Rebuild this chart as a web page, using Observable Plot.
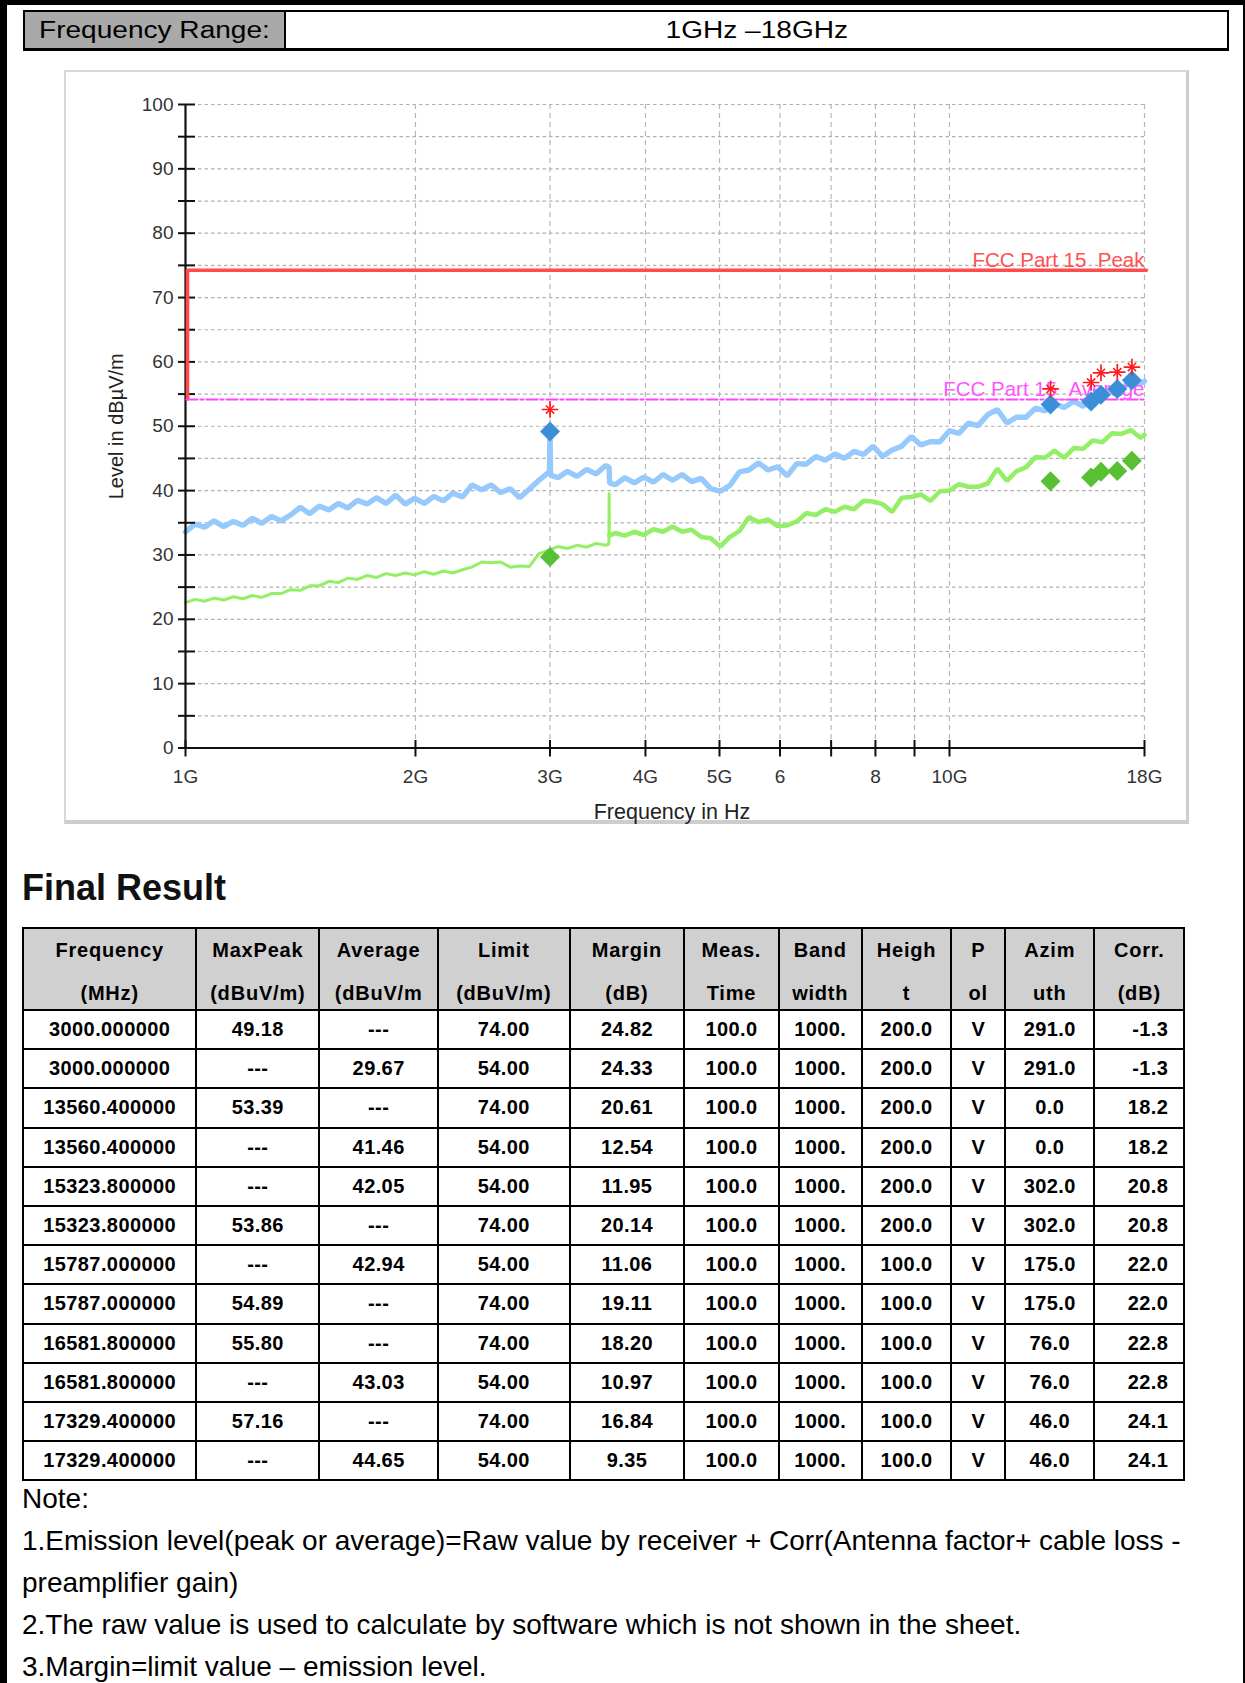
<!DOCTYPE html>
<html><head><meta charset="utf-8">
<script src="https://cdn.jsdelivr.net/npm/d3@7"></script>
<script src="https://cdn.jsdelivr.net/npm/@observablehq/plot@0.6"></script>
<style>
html,body{margin:0;padding:0;background:#fff;}
body{width:1245px;height:1683px;position:relative;overflow:hidden;font-family:"Liberation Sans",Arial,sans-serif;color:#000;}
#frame{position:absolute;left:0;top:0;width:1245px;height:1700px;box-sizing:border-box;border-top:5px solid #000;border-left:7px solid #000;border-right:2.5px solid #000;}
#hdr{position:absolute;left:23px;top:10px;width:1206px;height:41px;box-sizing:border-box;border:2px solid #000;border-bottom-width:3px;display:flex;}
#hdr .k{width:259px;background:#a9a9a9;border-right:2px solid #000;display:flex;align-items:center;}
#hdr .v{flex:1;display:flex;align-items:center;justify-content:center;}
#hdr span{font-size:23px;display:inline-block;transform:scaleX(1.22);}
#hdr .k span{transform-origin:left center;margin-left:14px;}
#panel{position:absolute;left:64px;top:70px;width:1125px;height:754px;box-sizing:border-box;border:2px solid #d8d8d8;border-right:3px solid #cdcdcd;border-bottom:4px solid #cdcdcd;}
#chart{position:absolute;left:0;top:0;}
#title{position:absolute;left:22px;top:870px;font-size:36px;font-weight:bold;line-height:36px;color:#111;}
#tbl{position:absolute;left:22px;top:927px;border-collapse:collapse;table-layout:fixed;width:1162px;font-weight:bold;font-size:20px;}
#tbl td,#tbl th{border:2px solid #000;padding:0;text-align:center;white-space:nowrap;overflow:hidden;}
#tbl th{background:#d0d0d0;height:80px;vertical-align:top;letter-spacing:0.8px;font-weight:bold;}
#tbl th .l1{height:42px;line-height:42px;}
#tbl th .l2{height:38px;line-height:44px;overflow:visible;}
#tbl tr.d td{height:37.2px;letter-spacing:0.4px;}
#tbl td.r{text-align:right;padding-right:15px;}
#notes{position:absolute;left:22px;top:1478px;font-size:28px;line-height:42px;white-space:nowrap;}
</style>
</head><body>
<div id="frame"></div>
<div id="panel"></div>
<div id="chart"></div>
<div id="hdr"><div class="k"><span>Frequency Range:</span></div><div class="v"><span>1GHz –18GHz</span></div></div>
<div id="title">Final Result</div>
<table id="tbl"></table>
<div id="notes"></div>
<script>
// ---------- chart data ----------
const xTickValues = [1, 2, 3, 4, 5, 6, 7, 8, 9, 10, 18];
const xTickLabels = ["1G", "2G", "3G", "4G", "5G", "6", "", "8", "", "10G", "18G"];
const xGridValues = [2, 3, 4, 5, 6, 7, 8, 9, 10, 18];
const yTickValues = [0, 5, 10, 15, 20, 25, 30, 35, 40, 45, 50, 55, 60, 65, 70, 75, 80, 85, 90, 95, 100];
const yTickLabelValues = [0, 10, 20, 30, 40, 50, 60, 70, 80, 90, 100];
const yGridValues = [5, 10, 15, 20, 25, 30, 35, 40, 45, 50, 55, 60, 65, 70, 75, 80, 85, 90, 95, 100];

// peak (MaxPeak) sweep, frequency in GHz, level in dBµV/m
const peakFreq = [1.000,1.029,1.059,1.090,1.122,1.155,1.189,1.223,1.259,1.296,1.334,1.372,1.413,1.454,1.496,1.540,1.585,1.631,1.679,1.728,1.778,1.830,1.884,1.939,1.995,2.054,2.113,2.175,2.239,2.304,2.371,2.441,2.512,2.585,2.661,2.738,2.818,2.901,2.985,2.995,3.000,3.005,3.073,3.162,3.255,3.350,3.447,3.548,3.585,3.590,3.652,3.758,3.868,3.981,4.097,4.217,4.340,4.467,4.597,4.732,4.870,5.012,5.158,5.309,5.464,5.623,5.788,5.957,6.131,6.310,6.494,6.683,6.879,7.079,7.286,7.499,7.718,7.943,8.175,8.414,8.660,8.913,9.173,9.441,9.716,10.00,10.29,10.59,10.90,11.22,11.55,11.89,12.23,12.59,12.96,13.34,13.72,14.13,14.54,14.96,15.40,15.85,16.31,16.79,17.28,17.78,18.00];
const peakLevel = [33.6,34.8,34.3,35.3,34.4,35.2,34.6,35.7,34.9,36.0,35.3,36.2,37.4,36.4,37.6,37.0,38.0,37.3,38.5,37.9,38.9,38.0,39.3,37.9,38.8,38.0,39.1,38.4,39.6,39.0,40.9,40.1,40.9,39.7,40.3,38.9,40.2,41.6,42.8,42.5,49.2,42.4,42.0,43.0,42.2,43.3,42.6,43.9,43.6,41.2,40.9,42.0,41.2,42.1,41.3,42.5,41.6,42.5,41.4,41.9,40.3,39.9,40.8,42.9,43.2,44.3,43.2,43.7,42.3,44.2,44.1,45.3,44.7,45.7,45.0,46.1,45.6,46.9,45.3,46.3,46.9,48.4,47.1,47.6,47.6,49.3,48.9,50.5,50.1,51.8,52.6,50.5,51.4,51.4,52.8,52.4,53.5,52.9,53.9,53.1,54.6,54.4,56.0,55.7,57.1,56.6,57.0];

// average sweep
const avgFreq = [1.000,1.029,1.059,1.090,1.122,1.155,1.189,1.223,1.259,1.296,1.334,1.372,1.413,1.454,1.496,1.540,1.585,1.631,1.679,1.728,1.778,1.830,1.884,1.939,1.995,2.054,2.113,2.175,2.239,2.304,2.371,2.441,2.512,2.585,2.661,2.738,2.818,2.901,2.985,3.073,3.162,3.255,3.350,3.447,3.548,3.583,3.585,3.588,3.652,3.758,3.868,3.981,4.097,4.217,4.340,4.467,4.597,4.732,4.870,5.012,5.158,5.309,5.464,5.623,5.788,5.957,6.131,6.310,6.494,6.683,6.879,7.079,7.286,7.499,7.718,7.943,8.175,8.414,8.660,8.913,9.173,9.441,9.716,10.00,10.29,10.59,10.90,11.22,11.55,11.89,12.23,12.59,12.96,13.34,13.72,14.13,14.54,14.96,15.40,15.85,16.31,16.79,17.28,17.78,18.00];
const avgLevel = [22.6,23.1,22.8,23.3,23.0,23.5,23.2,23.7,23.4,24.0,24.0,24.6,24.5,25.2,25.2,25.9,25.7,26.4,26.2,26.8,26.5,27.1,26.8,27.2,26.9,27.4,27.0,27.5,27.2,27.7,28.1,28.9,28.8,28.9,28.1,28.3,28.2,30.2,30.7,31.3,31.0,31.5,31.2,31.8,31.5,31.7,39.5,33.0,33.4,33.0,33.6,33.1,34.0,33.6,34.4,33.6,33.9,32.8,32.6,31.3,32.8,33.7,35.9,35.1,35.5,34.5,34.6,35.2,36.5,36.2,37.1,36.7,37.5,37.1,38.4,38.3,37.9,36.7,38.9,39.0,39.4,38.4,39.9,40.0,41.0,40.6,40.6,41.1,43.4,41.5,43.0,43.6,45.2,45.1,46.2,45.1,46.6,46.5,47.8,47.5,48.9,48.8,49.4,48.2,48.7];

// limit lines
const peakLimitFreq = [1, 1, 18];
const peakLimitLevel = [54, 74, 74];
const avgLimitFreq = [1, 18];
const avgLimitLevel = [54, 54];

// preview peak markers (red stars)
const previewFreq = [3.000, 13.5604, 15.3238, 15.787, 16.5818, 17.3294];
const previewLevel = [52.6, 55.8, 56.8, 58.3, 58.4, 59.2];

// ---------- table data ----------
const headLine1 = ["Frequency", "MaxPeak", "Average", "Limit", "Margin", "Meas.", "Band", "Heigh", "P", "Azim", "Corr."];
const headLine2 = ["(MHz)", "(dBuV/m)", "(dBuV/m", "(dBuV/m)", "(dB)", "Time", "width", "t", "ol", "uth", "(dB)"];
const colFreq = ["3000.000000","3000.000000","13560.400000","13560.400000","15323.800000","15323.800000","15787.000000","15787.000000","16581.800000","16581.800000","17329.400000","17329.400000"];
const colMaxPeak = ["49.18","---","53.39","---","---","53.86","---","54.89","55.80","---","57.16","---"];
const colAverage = ["---","29.67","---","41.46","42.05","---","42.94","---","---","43.03","---","44.65"];
const colLimit = ["74.00","54.00","74.00","54.00","54.00","74.00","54.00","74.00","74.00","54.00","74.00","54.00"];
const colMargin = ["24.82","24.33","20.61","12.54","11.95","20.14","11.06","19.11","18.20","10.97","16.84","9.35"];
const colTime = ["100.0","100.0","100.0","100.0","100.0","100.0","100.0","100.0","100.0","100.0","100.0","100.0"];
const colBandwidth = ["1000.","1000.","1000.","1000.","1000.","1000.","1000.","1000.","1000.","1000.","1000.","1000."];
const colHeight = ["200.0","200.0","200.0","200.0","200.0","200.0","100.0","100.0","100.0","100.0","100.0","100.0"];
const colPol = ["V","V","V","V","V","V","V","V","V","V","V","V"];
const colAzimuth = ["291.0","291.0","0.0","0.0","302.0","302.0","175.0","175.0","76.0","76.0","46.0","46.0"];
const colCorr = ["-1.3","-1.3","18.2","18.2","20.8","20.8","22.0","22.0","22.8","22.8","24.1","24.1"];
const colWidths = [173.3, 123, 118.7, 131.6, 114.7, 94.3, 83.4, 89.3, 54, 89, 90];

const noteLines = [
  "Note:",
  "1.Emission level(peak or average)=Raw value by receiver + Corr(Antenna factor+ cable loss -",
  "preamplifier gain)",
  "2.The raw value is used to calculate by software which is not shown in the sheet.",
  "3.Margin=limit value – emission level."
];

// ---------- build chart ----------
const peakData = peakFreq.map((f, i) => ({f, v: peakLevel[i]}));
const avgData = avgFreq.map((f, i) => ({f, v: avgLevel[i]}));
const peakLimit = peakLimitFreq.map((f, i) => ({f, v: peakLimitLevel[i]}));
const avgLimit = avgLimitFreq.map((f, i) => ({f, v: avgLimitLevel[i]}));
const finalPeak = colFreq.map((f, i) => ({f: +f / 1000, v: +colMaxPeak[i]})).filter(d => !isNaN(d.v));
const finalAvg = colFreq.map((f, i) => ({f: +f / 1000, v: +colAverage[i]})).filter(d => !isNaN(d.v));
const preview = previewFreq.map((f, i) => ({f, v: previewLevel[i]}));

const chart = Plot.plot({
  width: 1245,
  height: 840,
  marginLeft: 185,
  marginRight: 101,
  marginTop: 104,
  marginBottom: 92.5,
  style: {background: "transparent", fontFamily: "'Liberation Sans', Arial, sans-serif", overflow: "visible"},
  x: {type: "log", domain: [1, 18], axis: null},
  y: {domain: [0, 100], axis: null},
  marks: [
    Plot.ruleY(yGridValues, {y: d => d, stroke: "#b0b0b0", strokeWidth: 1.2, strokeDasharray: "3.5,3"}),
    Plot.ruleX(xGridValues, {x: d => d, stroke: "#b8b8b8", strokeWidth: 1.2, strokeDasharray: "5,4"}),
    Plot.line(peakData, {x: "f", y: "v", stroke: "#96c9fc", strokeWidth: 5.4, strokeLinejoin: "miter"}),
    Plot.line(avgData.filter(d => d.f <= 3.588), {x: "f", y: "v", stroke: "#94ef66", strokeWidth: 3}),
    Plot.line(avgData.filter(d => d.f >= 3.588), {x: "f", y: "v", stroke: "#94ef66", strokeWidth: 4.6, strokeLinejoin: "miter"}),
    Plot.ruleX([1], {x: d => d, stroke: "#111", strokeWidth: 2.2}),
    Plot.ruleY([0], {y: d => d, stroke: "#111", strokeWidth: 2.2}),
    Plot.ruleY(yTickValues, {y: d => d, x1: 1, x2: 1, insetLeft: -7, insetRight: -10, stroke: "#111", strokeWidth: 2}),
    Plot.ruleX(xTickValues, {x: d => d, y1: 0, y2: 0, insetTop: -7.5, insetBottom: -9, stroke: "#111", strokeWidth: 2}),
    Plot.line(peakLimit, {x: "f", y: "v", stroke: "#ff4b4b", strokeWidth: 3.6, dx: 2, dy: -1.5}),
    Plot.line(avgLimit, {x: "f", y: "v", stroke: "#ff44ff", strokeWidth: 2.2, strokeDasharray: "11,3,3,3", dx: 1, dy: -1}),
    Plot.text(["FCC Part 15_Peak"], {x: 18, y: 74, text: d => d, textAnchor: "end", lineAnchor: "bottom", dy: -5, fill: "#ff5050", fontSize: 20.5}),
    Plot.text(["FCC Part 15_Average"], {x: 18, y: 54, text: d => d, textAnchor: "end", lineAnchor: "bottom", dy: -5, fill: "#ff55ff", fontSize: 20.5}),
    Plot.dot(finalPeak, {x: "f", y: "v", symbol: "diamond2", r: 9, fill: "#3b8fd8"}),
    Plot.dot(finalAvg, {x: "f", y: "v", symbol: "diamond2", r: 9, fill: "#58c032"}),
    Plot.dot(preview, {x: "f", y: "v", symbol: "plus", r: 5.4, stroke: "#ff1a1a", strokeWidth: 1.7}),
    Plot.dot(preview, {x: "f", y: "v", symbol: "times", r: 3.8, stroke: "#ff1a1a", strokeWidth: 1.5}),
    Plot.text(yTickLabelValues, {y: d => d, text: d => String(d), frameAnchor: "left", textAnchor: "end", lineAnchor: "middle", dx: -12, fontSize: 19, fill: "#333"}),
    Plot.text(xTickValues, {x: d => d, text: (d, i) => xTickLabels[i], frameAnchor: "bottom", textAnchor: "middle", lineAnchor: "middle", dy: 29, fontSize: 19, fill: "#333"}),
    Plot.text(["Level in dBµV/m"], {text: d => d, frameAnchor: "left", textAnchor: "middle", lineAnchor: "middle", dx: -69, rotate: -90, fontSize: 20, fill: "#222"}),
    Plot.text(["Frequency in Hz"], {text: d => d, frameAnchor: "bottom", textAnchor: "middle", lineAnchor: "middle", dy: 64.5, dx: 7, fontSize: 21.5, fill: "#222"})
  ]
});
document.getElementById("chart").appendChild(chart);

// ---------- build table ----------
const tbl = document.getElementById("tbl");
let html = "<colgroup>" + colWidths.map(w => `<col style="width:${w}px">`).join("") + "</colgroup>";
html += "<tr>" + headLine1.map((h, i) => `<th><div class="l1">${h}</div><div class="l2">${headLine2[i]}</div></th>`).join("") + "</tr>";
const cols = [colFreq, colMaxPeak, colAverage, colLimit, colMargin, colTime, colBandwidth, colHeight, colPol, colAzimuth, colCorr];
for (let r = 0; r < colFreq.length; r++) {
  html += `<tr class="d">` + cols.map((c, j) => `<td${j === cols.length - 1 ? ' class="r"' : ""}>${c[r]}</td>`).join("") + "</tr>";
}
tbl.innerHTML = html;

document.getElementById("notes").innerHTML = noteLines.map(l => `<div>${l}</div>`).join("");
</script>
</body></html>
